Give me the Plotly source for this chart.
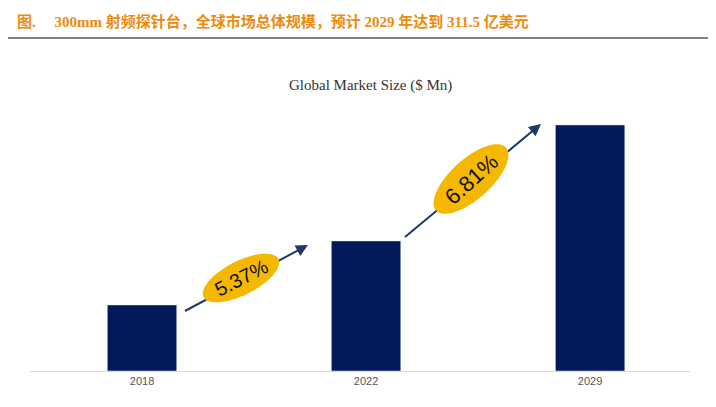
import plotly.graph_objects as go
import numpy as np

years = ["2018", "2022", "2029"]
values = [83.6, 164.6, 311.5]
growth_labels = ["5.37%", "6.81%"]

W, H = 716, 407
OFF = 8
L, R, T, B = 30 - OFF, 26 + OFF, 100 - OFF, 36 + OFF
pw, ph = W - L - R, H - T - B

def px(x, y):
    return (x - OFF - L) / pw, (H - B - (y - OFF)) / ph

fig = go.Figure(go.Bar(x=years, y=values, marker_color="#03195B", width=0.31))

def ellipse(cx, cy, rx, ry, ang):
    t = np.linspace(0, 2 * np.pi, 72)
    a = np.deg2rad(ang)
    xs = cx + rx * np.cos(t) * np.cos(a) - ry * np.sin(t) * np.sin(a)
    ys = cy + rx * np.cos(t) * np.sin(a) + ry * np.sin(t) * np.cos(a)
    pts = [px(x, y) for x, y in zip(xs, ys)]
    return "M " + " L ".join(f"{p[0]:.4f},{p[1]:.4f}" for p in pts) + " Z"

lx0, ly = px(0, 38)
lx1, _ = px(708, 38)
shapes = [dict(type="line", xref="paper", yref="paper", x0=lx0, x1=lx1, y0=ly, y1=ly,
               line=dict(color="black", width=1))]
anns = []
for (x0, y0, x1, y1) in [(185, 311, 308, 245), (405, 237, 541, 124)]:
    a0, b0 = px(x0, y0)
    a1, b1 = px(x1, y1)
    d = np.hypot(x1 - x0, y1 - y0)
    ux, uy = (x1 - x0) / d, (y1 - y0) / d
    am, bm = px(x1 - 6 * ux, y1 - 6 * uy)
    shapes.append(dict(type="line", xref="paper", yref="paper", x0=a0, y0=b0, x1=am, y1=bm,
                       line=dict(color="#1F3864", width=2)))
    anns.append(dict(xref="paper", yref="paper", x=a1, y=b1, ax=-12 * ux, ay=-12 * uy,
                     text="", showarrow=True, arrowhead=2, arrowsize=1.2, arrowwidth=2, arrowcolor="#1F3864"))
for (cx, cy, rx, ry, ang, lab, fs) in [(241, 278, 42, 17, -27, growth_labels[0], 20),
                                       (471, 179, 47, 20, -42, growth_labels[1], 22)]:
    shapes.append(dict(type="path", xref="paper", yref="paper", path=ellipse(cx, cy, rx, ry, ang),
                       fillcolor="#F5B800", line=dict(width=0)))
    a, b = px(cx, cy)
    anns.append(dict(xref="paper", yref="paper", x=a, y=b, xanchor="center", yanchor="middle",
                     text=lab, showarrow=False, textangle=ang,
                     font=dict(size=fs, color="#111", family="Liberation Sans")))

a, b = px(15, 22)
anns.append(dict(xref="paper", yref="paper", x=a, y=b, xanchor="left", yanchor="middle", showarrow=False,
                 text="<b>图.     300mm 射频探针台，全球市场总体规模，预计 2029 年达到 311.5 亿美元</b>",
                 font=dict(size=15, color="#EE8A0C", family="Liberation Serif, Noto Sans CJK SC")))
a, b = px(370, 85)
anns.append(dict(xref="paper", yref="paper", x=a, y=b, xanchor="center", yanchor="middle", showarrow=False,
                 text="Global Market Size ($ Mn)",
                 font=dict(size=15, color="#333", family="Liberation Serif")))

fig.update_layout(
    width=W, height=H, margin=dict(l=L, r=R, t=T, b=B),
    plot_bgcolor="white", paper_bgcolor="white", showlegend=False,
    shapes=shapes, annotations=anns,
    xaxis=dict(type="category", range=[-0.5, 2.446], showline=True, linecolor="#D9D9D9",
               tickfont=dict(size=11, color="#555", family="Liberation Sans"), ticks=""),
    yaxis=dict(range=[0, 343], visible=False),
)
fig.write_html("out.html")
